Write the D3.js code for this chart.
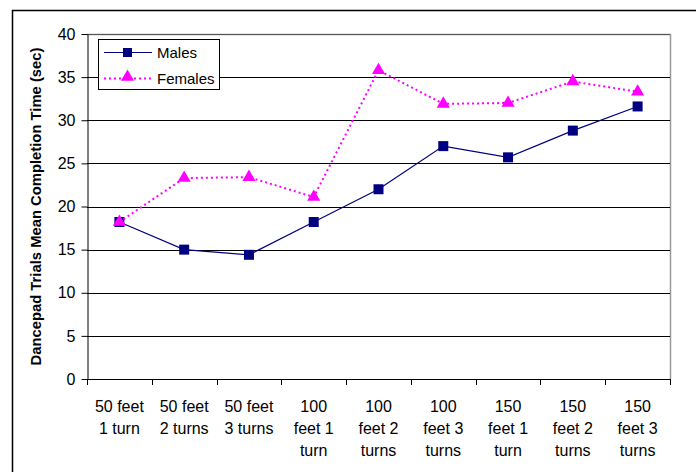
<!DOCTYPE html>
<html>
<head>
<meta charset="utf-8">
<script src="https://cdn.jsdelivr.net/npm/d3@7"></script>
<style>
  html, body { margin: 0; padding: 0; background: #fff; }
  svg { display: block; font-family: Arial, "Liberation Sans", sans-serif; }
</style>
</head>
<body>
<svg id="chart" width="696" height="472"></svg>
<script>
// Trial conditions (x categories), each label split over lines
const categories = [
  ["50 feet", "1 turn"],
  ["50 feet", "2 turns"],
  ["50 feet", "3 turns"],
  ["100", "feet 1", "turn"],
  ["100", "feet 2", "turns"],
  ["100", "feet 3", "turns"],
  ["150", "feet 1", "turn"],
  ["150", "feet 2", "turns"],
  ["150", "feet 3", "turns"]
];
// Mean completion time (sec)
const males   = [18.2, 15.0, 14.4, 18.2, 22.0, 27.0, 25.7, 28.8, 31.6];
const females = [18.2, 23.3, 23.4, 21.1, 35.8, 31.9, 32.0, 34.5, 33.3];
const yTicks = [0, 5, 10, 15, 20, 25, 30, 35, 40];

(function draw() {
const svg = d3.select("#chart");
const pLeft = 87, pRight = 670, pTop = 34, pBottom = 379;

// outer chart frame
svg.append("rect")
  .attr("x", 12.5).attr("y", 10.5)
  .attr("width", 720).attr("height", 500)
  .attr("fill", "none").attr("stroke", "#000").attr("stroke-width", 1.5);

const x = d3.scaleBand().domain(d3.range(categories.length)).range([pLeft, pRight]).padding(0);
const y = d3.scaleLinear().domain([0, 40]).range([pBottom, pTop]);

// plot area border (top and right sides grey)
svg.append("path")
  .attr("d", `M${pLeft},${pTop + 0.5}H${pRight + 0.5}V${pBottom}`)
  .attr("fill", "none").attr("stroke", "#999").attr("stroke-width", 1.5);

// horizontal gridlines
svg.append("g").selectAll("line")
  .data(yTicks.filter(t => t > 0))
  .join("line")
  .attr("x1", pLeft).attr("x2", pRight)
  .attr("y1", d => Math.round(y(d)) + 0.5).attr("y2", d => Math.round(y(d)) + 0.5)
  .attr("stroke", d => d === 40 ? "#555" : "#000").attr("stroke-width", 1);

// y axis
const yAxis = d3.axisLeft(y).tickValues(yTicks).tickSize(6).tickPadding(6).tickSizeOuter(0);
const gy = svg.append("g").attr("transform", `translate(${pLeft + 0.5},0)`).call(yAxis);
gy.select(".domain").attr("stroke", "#000");
gy.selectAll(".tick line").attr("stroke", "#000");
gy.selectAll(".tick text").attr("font-size", 16).attr("fill", "#000")
  .attr("font-family", "Arial, 'Liberation Sans', sans-serif");

// x axis: ticks on category boundaries
const boundaries = d3.range(categories.length + 1).map(i => pLeft + i * x.bandwidth());
const gx = svg.append("g");
gx.append("line")
  .attr("x1", pLeft).attr("x2", pRight + 1)
  .attr("y1", pBottom + 0.5).attr("y2", pBottom + 0.5)
  .attr("stroke", "#000");
gx.selectAll("line.tk").data(boundaries).join("line").attr("class", "tk")
  .attr("x1", d => Math.round(d) + 0.5).attr("x2", d => Math.round(d) + 0.5)
  .attr("y1", pBottom).attr("y2", pBottom + 6)
  .attr("stroke", "#000");

gx.selectAll("text.cat").data(categories).join("text").attr("class", "cat")
  .attr("text-anchor", "middle")
  .attr("font-size", 16)
  .attr("fill", "#000")
  .each(function (lines, i) {
    const t = d3.select(this);
    lines.forEach((ln, j) => {
      t.append("tspan")
        .attr("x", x(i) + x.bandwidth() / 2)
        .attr("y", 412 + j * 22)
        .text(ln);
    });
  });

// y axis title
svg.append("text")
  .attr("transform", `translate(41,${(pTop + pBottom) / 2}) rotate(-90)`)
  .attr("text-anchor", "middle")
  .attr("font-size", 14.8).attr("font-weight", "bold")
  .text("Dancepad Trials Mean Completion Time (sec)");

const cx = i => x(i) + x.bandwidth() / 2;
const line = d3.line().x((d, i) => cx(i)).y(d => y(d));

// Males series
svg.append("path").datum(males)
  .attr("d", line).attr("fill", "none")
  .attr("stroke", "#000080").attr("stroke-width", 1.2);
svg.append("g").selectAll("rect").data(males).join("rect")
  .attr("x", (d, i) => cx(i) - 5).attr("y", d => y(d) - 5)
  .attr("width", 10).attr("height", 10)
  .attr("fill", "#000080");

// Females series
const tri = d3.symbol().type(d3.symbolTriangle).size(75);
svg.append("path").datum(females)
  .attr("d", line).attr("fill", "none")
  .attr("stroke", "#FF00FF").attr("stroke-width", 2).attr("stroke-dasharray", "2,3");
svg.append("g").selectAll("path").data(females).join("path")
  .attr("d", tri)
  .attr("transform", (d, i) => `translate(${cx(i)},${y(d)})`)
  .attr("fill", "#FF00FF");

// legend
const lg = svg.append("g");
lg.append("rect")
  .attr("x", 98.5).attr("y", 39.5).attr("width", 121).attr("height", 50)
  .attr("fill", "#fff").attr("stroke", "#000");
lg.append("line").attr("x1", 104).attr("x2", 152).attr("y1", 52.5).attr("y2", 52.5)
  .attr("stroke", "#000080").attr("stroke-width", 1.2);
lg.append("rect").attr("x", 123).attr("y", 48).attr("width", 9).attr("height", 9).attr("fill", "#000080");
lg.append("text").attr("x", 157).attr("y", 58).attr("font-size", 15).text("Males");
lg.append("line").attr("x1", 104).attr("x2", 152).attr("y1", 78.5).attr("y2", 78.5)
  .attr("stroke", "#FF00FF").attr("stroke-width", 2).attr("stroke-dasharray", "2,3");
lg.append("path").attr("d", tri).attr("transform", "translate(127.5,77)").attr("fill", "#FF00FF");
lg.append("text").attr("x", 157).attr("y", 84).attr("font-size", 15).text("Females");
})();
</script>
</body>
</html>
